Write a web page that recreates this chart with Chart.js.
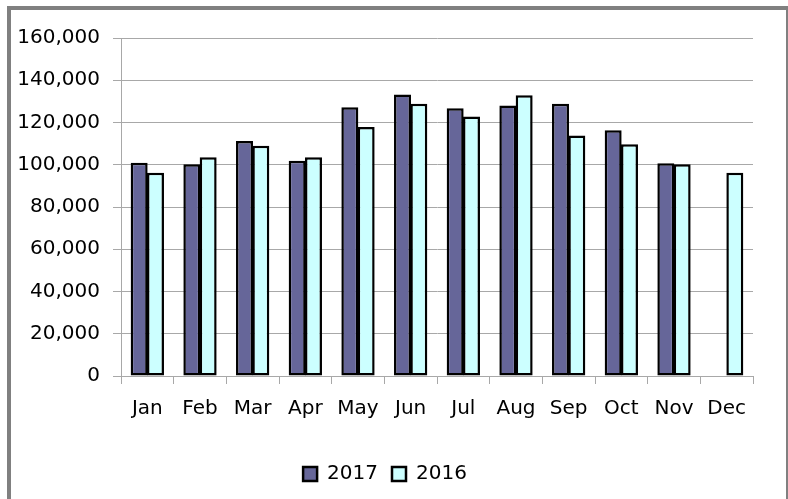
<!DOCTYPE html>
<html lang="en">
<head>
    <meta charset="UTF-8">
    <title>Monthly totals 2017 vs 2016</title>
    <script src="https://cdn.jsdelivr.net/npm/chart.js"></script>
    <style>
        body {
            margin: 0;
            background: #ffffff;
        }
        .frame {
            position: absolute;
            left: 7px;
            top: 6px;
            width: 775px;
            height: 493px;
            border-top: 4px solid #808080;
            border-left: 4px solid #808080;
            border-right: 2px solid #808080;
            background: #ffffff;
        }
        #monthChart {
            display: block;
        }
    </style>
</head>
<body>
    <div class="frame">
        <canvas id="monthChart" width="775" height="493"></canvas>
    </div>

    <script>
        const months = ['Jan', 'Feb', 'Mar', 'Apr', 'May', 'Jun', 'Jul', 'Aug', 'Sep', 'Oct', 'Nov', 'Dec'];
        const values2017 = [101000, 100200, 111200, 101900, 127200, 133300, 126700, 128000, 128900, 116300, 100700, null];
        const values2016 = [96200, 103500, 109000, 103500, 117900, 128900, 122800, 132900, 113900, 109700, 100200, 96200];
        const yTicks = [0, 20000, 40000, 60000, 80000, 100000, 120000, 140000, 160000];

        const gridColor = '#a8a8a8';
        const labelFont = { family: 'DejaVu Sans', size: 20 };

        const ctx = document.getElementById('monthChart').getContext('2d');
        const chart = new Chart(ctx, {
            type: 'bar',
            data: {
                labels: months,
                datasets: [
                    {
                        label: '2017',
                        data: values2017,
                        backgroundColor: '#666699',
                        borderColor: '#000000',
                        borderWidth: 2.5,
                        borderSkipped: false
                    },
                    {
                        label: '2016',
                        data: values2016,
                        backgroundColor: '#ccffff',
                        borderColor: '#000000',
                        borderWidth: 2.5,
                        borderSkipped: false
                    }
                ]
            },
            options: {
                responsive: false,
                animation: false,
                categoryPercentage: 0.62,
                barPercentage: 1.04,
                layout: {
                    padding: { top: 28, right: 33, left: 6, bottom: 9 }
                },
                plugins: {
                    legend: {
                        position: 'bottom',
                        labels: {
                            font: labelFont,
                            color: '#000000',
                            boxWidth: 14,
                            boxHeight: 14,
                            padding: 14
                        }
                    },
                    tooltip: { enabled: false }
                },
                scales: {
                    x: {
                        grid: {
                            offset: true,
                            drawOnChartArea: false,
                            drawTicks: true,
                            tickLength: 8,
                            color: gridColor
                        },
                        border: { color: gridColor },
                        ticks: {
                            font: labelFont,
                            color: '#000000',
                            padding: 13
                        },
                        afterFit: function(scale) {
                            scale.height = 74;
                        }
                    },
                    y: {
                        min: 0,
                        max: 160000,
                        afterBuildTicks: function(scale) {
                            scale.ticks = yTicks.map(v => ({ value: v }));
                        },
                        grid: {
                            color: gridColor,
                            drawTicks: true,
                            tickLength: 8
                        },
                        border: { color: gridColor },
                        ticks: {
                            font: labelFont,
                            color: '#000000',
                            padding: 13,
                            callback: function(value) {
                                return value.toLocaleString('en-US');
                            }
                        },
                        afterFit: function(scale) {
                            scale.width = 104;
                        }
                    }
                }
            }
        });
    </script>
</body>
</html>
